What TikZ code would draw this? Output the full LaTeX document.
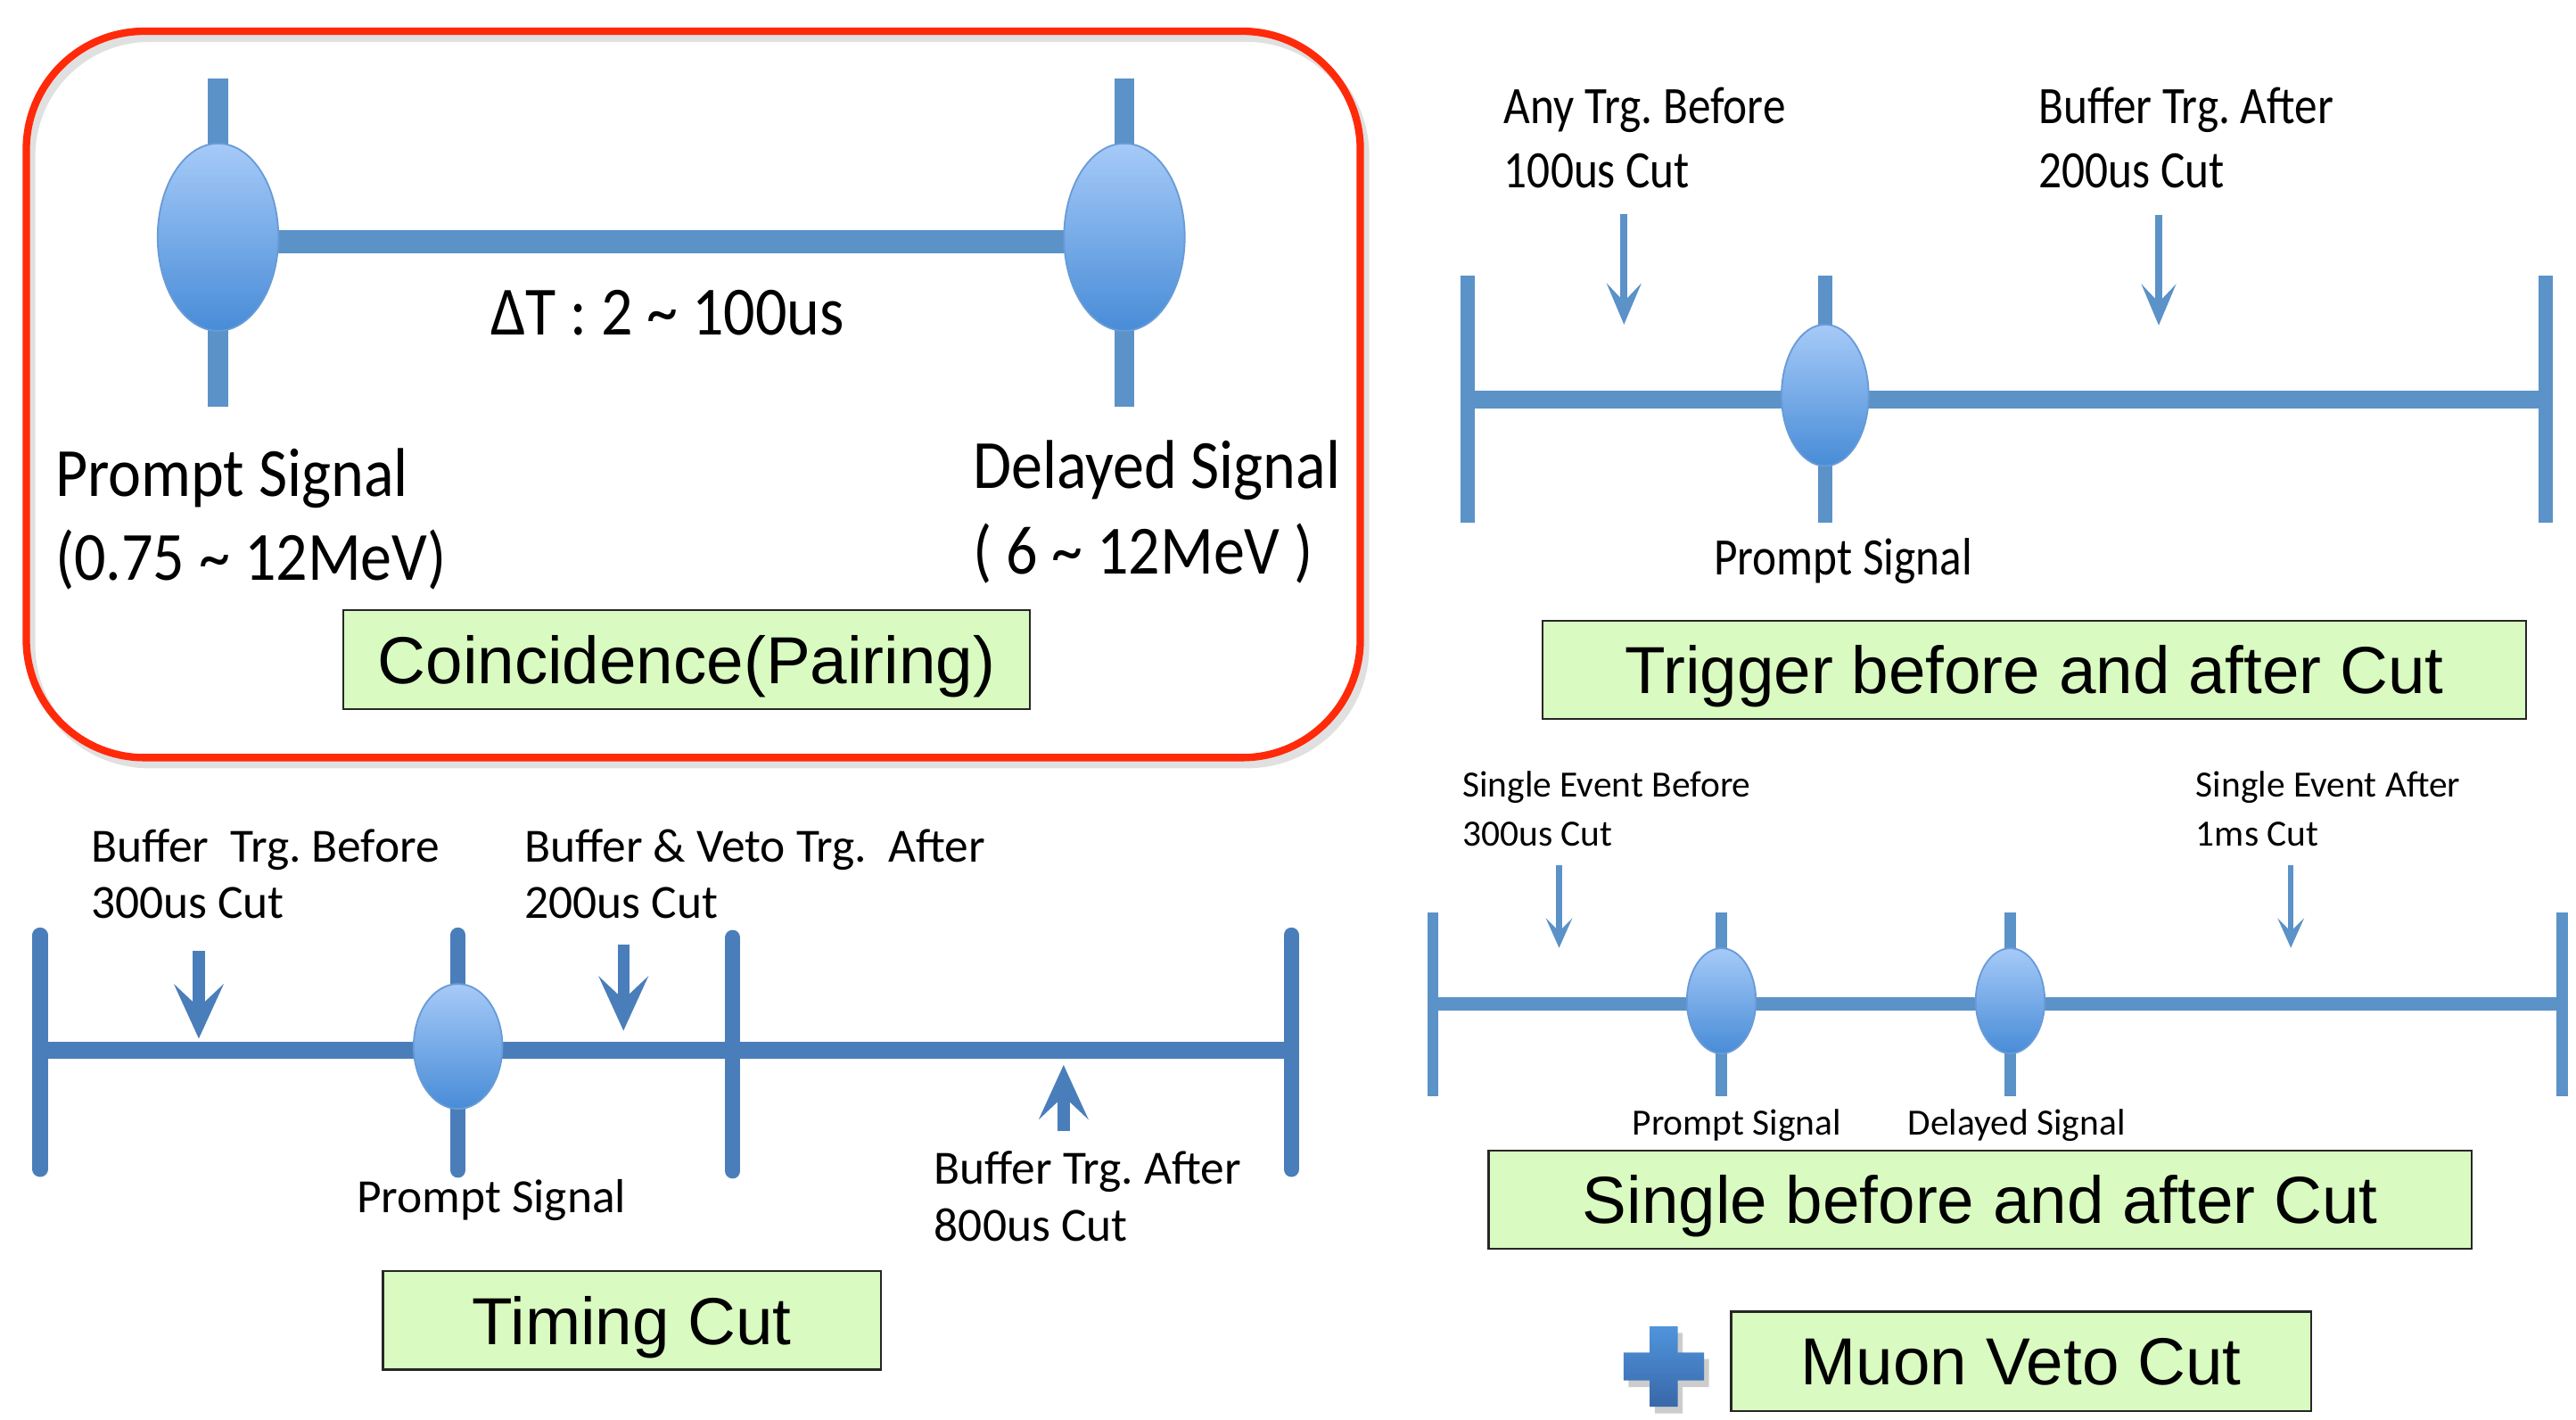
\documentclass[tikz,border=0pt]{standalone}
\usepackage{fontspec}
\setmainfont{Liberation Sans}
\newfontfamily\calfont{Carlito}
\newfontfamily\calnarrow[FakeStretch=0.87]{Carlito}
\newfontfamily\calmid[FakeStretch=0.905]{Carlito}
\usetikzlibrary{arrows.meta,shapes.geometric}
\frenchspacing

\definecolor{lineblue}{RGB}{91,146,200}
\definecolor{darkblue}{RGB}{74,126,187}
\definecolor{balltop}{RGB}{166,202,248}
\definecolor{ballbot}{RGB}{72,140,215}
\definecolor{balledge}{RGB}{105,155,215}
\definecolor{boxgreen}{RGB}{217,250,192}
\definecolor{framered}{RGB}{255,42,10}
\definecolor{plustop}{RGB}{80,148,220}
\definecolor{plusbot}{RGB}{56,104,168}

\tikzset{
  signal/.style={ellipse, inner sep=0pt, top color=balltop, bottom color=ballbot,
    draw=balledge, line width=1pt},
  stagebox/.style={draw=black!85, line width=1.2pt, fill=boxgreen, inner sep=0pt,
    font=\fontsize{40.5}{48}\selectfont, text height=29pt, text depth=0pt},
  biglabel/.style={anchor=base west, inner sep=0pt, font=\calmid\fontsize{42}{50}\selectfont},
  trglabel/.style={anchor=base west, inner sep=0pt, font=\calnarrow\fontsize{32}{38}\selectfont},
  timlabel/.style={anchor=base west, inner sep=0pt, font=\calfont\fontsize{29}{35}\selectfont},
  snglabel/.style={anchor=base west, inner sep=0pt, font=\calfont\fontsize{22.5}{27}\selectfont},
  coincline/.style={draw=lineblue, line width=14pt},
  coinctick/.style={draw=lineblue, line width=12pt},
  trgline/.style={draw=lineblue, line width=11pt},
  trgtick/.style={draw=lineblue, line width=9pt},
  timline/.style={draw=darkblue, line width=10.5pt},
  timtick/.style={draw=darkblue, line width=9.3pt, line cap=round},
  sngline/.style={draw=lineblue, line width=8.2pt},
  sngtick/.style={draw=lineblue, line width=6.8pt},
  thinarrow/.style={draw=lineblue, fill=lineblue, line width=4.5pt,
    -{Stealth[length=25pt,width=21pt,inset=11pt]}},
  thickarrow/.style={draw=darkblue, fill=darkblue, line width=7.3pt,
    -{Stealth[length=33pt,width=30pt,inset=14pt]}},
  smallarrow/.style={draw=lineblue, fill=lineblue, line width=3.6pt,
    -{Stealth[length=18pt,width=16pt,inset=8pt]}},
}

\begin{document}
\begin{tikzpicture}[x=1pt,y=-1pt]
\useasboundingbox (0,0) rectangle (1568,864);

% ---------------- Coincidence (pairing) ----------------
\draw[black, opacity=0.12, line width=5pt, rounded corners=72pt] (19,23) rectangle (831,465);
\draw[framered, line width=4.5pt, rounded corners=72pt] (16,19) rectangle (828,461);

\coordinate (pc) at (132.7,144.3);
\coordinate (dc) at (684.4,144.3);
\coordinate (pT) at (132.7,47.6);  \coordinate (pB) at (132.7,247.6);
\coordinate (dT) at (684.4,47.6);  \coordinate (dB) at (684.4,247.6);
\draw[coinctick] (pT) -- (pB);
\draw[coinctick] (dT) -- (dB);
\draw[coincline] ([yshift=-3pt]pc) -- ([yshift=-3pt]dc);
\node[signal, minimum width=73.5pt, minimum height=114pt] (prompt) at (pc) {};
\node[signal, minimum width=73.5pt, minimum height=114pt] (delayed) at (dc) {};

\node[biglabel] (dtlab) at (298.5,204) {ΔT : 2 \textasciitilde\ 100us};
\node[biglabel] (plab1) at (33.5,302) {Prompt Signal};
\node[biglabel] (plab2) at (33.5,353) {(0.75 \textasciitilde\ 12MeV)};
\node[biglabel] (dlab1) at (592,297) {Delayed Signal};
\node[biglabel] (dlab2) at (592,349) {( 6 \textasciitilde\ 12MeV )};

\node[stagebox, minimum width=417.8pt, minimum height=60.2pt] (coinc) at (417.9,401.5)
  {Coincidence(Pairing)};

% ---------------- Trigger before and after ----------------
\coordinate (tL) at (893.4,243);   \coordinate (tR) at (1549.6,243);
\coordinate (tLT) at (893.4,167.5); \coordinate (tLB) at (893.4,318);
\coordinate (tRT) at (1549.6,167.5); \coordinate (tRB) at (1549.6,318);
\coordinate (tPT) at (1110.9,167.5); \coordinate (tPB) at (1110.9,318);
\coordinate (tc) at (1110.9,240.5);
\draw[trgline] (tL) -- (tR);
\draw[trgtick] (tLT) -- (tLB);
\draw[trgtick] (tRT) -- (tRB);
\draw[trgtick] (tPT) -- (tPB);
\node[signal, minimum width=53pt, minimum height=86pt] (tprompt) at (tc) {};

\coordinate (ta1s) at (988.5,130);  \coordinate (ta1e) at (988.5,197.5);
\coordinate (ta2s) at (1314,130.6); \coordinate (ta2e) at (1314,198);
\draw[thinarrow] (ta1s) -- (ta1e);
\draw[thinarrow] (ta2s) -- (ta2e);

\node[trglabel] (tb1) at (915.4,75.1) {Any Trg. Before};
\node[trglabel] (tb2) at (915.4,114) {100us Cut};
\node[trglabel] (ta1) at (1240.8,75.1) {Buffer Trg. After};
\node[trglabel] (ta2) at (1240.8,114) {200us Cut};
\node[trglabel] (tpl) at (1043,350) {Prompt Signal};

\node[stagebox, minimum width=598.6pt, minimum height=59.7pt] (trig) at (1238.3,407.5)
  {Trigger before and after Cut};

% ---------------- Timing cut ----------------
\coordinate (mL) at (24.4,639);  \coordinate (mR) at (786,639);
\coordinate (mLT) at (24.4,569);  \coordinate (mLB) at (24.4,711.5);
\coordinate (mPT) at (278.8,569); \coordinate (mPB) at (278.8,712);
\coordinate (mMT) at (446,570.5); \coordinate (mMB) at (446,712.5);
\coordinate (mRT) at (786,569);   \coordinate (mRB) at (786,711.5);
\coordinate (mc) at (278.8,636.7);
\draw[timline] (mL) -- (mR);
\draw[timtick] (mLT) -- (mLB);
\draw[timtick] (mPT) -- (mPB);
\draw[timtick] (mMT) -- (mMB);
\draw[timtick] (mRT) -- (mRB);
\node[signal, minimum width=54pt, minimum height=76pt] (mprompt) at (mc) {};

\coordinate (ma1s) at (121,578.7);   \coordinate (ma1e) at (121,632);
\coordinate (ma2s) at (379.5,575);   \coordinate (ma2e) at (379.5,627.2);
\coordinate (ma3s) at (647.4,688.2); \coordinate (ma3e) at (647.4,648);
\draw[thickarrow] (ma1s) -- (ma1e);
\draw[thickarrow] (ma2s) -- (ma2e);
\draw[thickarrow] (ma3s) -- (ma3e);

\node[timlabel] (mb1) at (55.2,524.7) {Buffer\ \ Trg. Before};
\node[timlabel] (mb2) at (55.2,559) {300us Cut};
\node[timlabel] (mv1) at (319.3,524.7) {Buffer \& Veto Trg.\ \ After};
\node[timlabel] (mv2) at (319.3,559) {200us Cut};
\node[timlabel] (mpl) at (217,738) {Prompt Signal};
\node[timlabel] (mf1) at (568.5,720.5) {Buffer Trg. After};
\node[timlabel] (mf2) at (568.5,755) {800us Cut};

\node[stagebox, minimum width=303.2pt, minimum height=59.8pt] (timing) at (384.7,803.5)
  {Timing Cut};

% ---------------- Single before and after ----------------
\coordinate (sL) at (872.3,611);   \coordinate (sR) at (1559.6,611);
\coordinate (sLT) at (872.3,555);  \coordinate (sLB) at (872.3,667);
\coordinate (sPT) at (1047.8,555); \coordinate (sPB) at (1047.8,667);
\coordinate (sDT) at (1223.6,555); \coordinate (sDB) at (1223.6,667);
\coordinate (sRT) at (1559.6,555); \coordinate (sRB) at (1559.6,667);
\coordinate (spc) at (1047.8,609); \coordinate (sdc) at (1223.6,609);
\draw[sngline] (sL) -- (sR);
\draw[sngtick] (sLT) -- (sLB);
\draw[sngtick] (sPT) -- (sPB);
\draw[sngtick] (sDT) -- (sDB);
\draw[sngtick] (sRT) -- (sRB);
\node[signal, minimum width=42pt, minimum height=64pt] (sprompt) at (spc) {};
\node[signal, minimum width=42pt, minimum height=64pt] (sdelayed) at (sdc) {};

\coordinate (sa1s) at (949,526.2);    \coordinate (sa1e) at (949,576.8);
\coordinate (sa2s) at (1394.4,526.2); \coordinate (sa2e) at (1394.4,576.8);
\draw[smallarrow] (sa1s) -- (sa1e);
\draw[smallarrow] (sa2s) -- (sa2e);

\node[snglabel] (sb1) at (890.1,484.8) {Single Event Before};
\node[snglabel] (sb2) at (890.1,514.7) {300us Cut};
\node[snglabel] (sf1) at (1336.5,484.8) {Single Event After};
\node[snglabel] (sf2) at (1336.5,514.7) {1ms Cut};
\node[snglabel] (spl) at (993.4,690.4) {Prompt Signal};
\node[snglabel] (sdl) at (1161.1,690.4) {Delayed Signal};

\node[stagebox, minimum width=598.5pt, minimum height=59.7pt] (single) at (1205.3,729.8)
  {Single before and after Cut};

% ---------------- Plus + muon veto ----------------
\begin{scope}[shift={(1015.7,835.5)}]
  \fill[black, opacity=0.2]
    (-8.5,-24.5) -- (8.5,-24.5) -- (8.5,-8.5) -- (24.5,-8.5) -- (24.5,8.5) -- (8.5,8.5)
    -- (8.5,24.5) -- (-8.5,24.5) -- (-8.5,8.5) -- (-24.5,8.5) -- (-24.5,-8.5) -- (-8.5,-8.5) -- cycle;
\end{scope}
\begin{scope}[shift={(1012.7,831.5)}]
  \shade[top color=plustop, bottom color=plusbot]
    (-8.5,-24.5) -- (8.5,-24.5) -- (8.5,-8.5) -- (24.5,-8.5) -- (24.5,8.5) -- (8.5,8.5)
    -- (8.5,24.5) -- (-8.5,24.5) -- (-8.5,8.5) -- (-24.5,8.5) -- (-24.5,-8.5) -- (-8.5,-8.5) -- cycle;
\end{scope}

\node[stagebox, minimum width=353pt, minimum height=60.3pt] (muon) at (1230.2,828.3)
  {Muon Veto Cut};

\end{tikzpicture}
\end{document}
